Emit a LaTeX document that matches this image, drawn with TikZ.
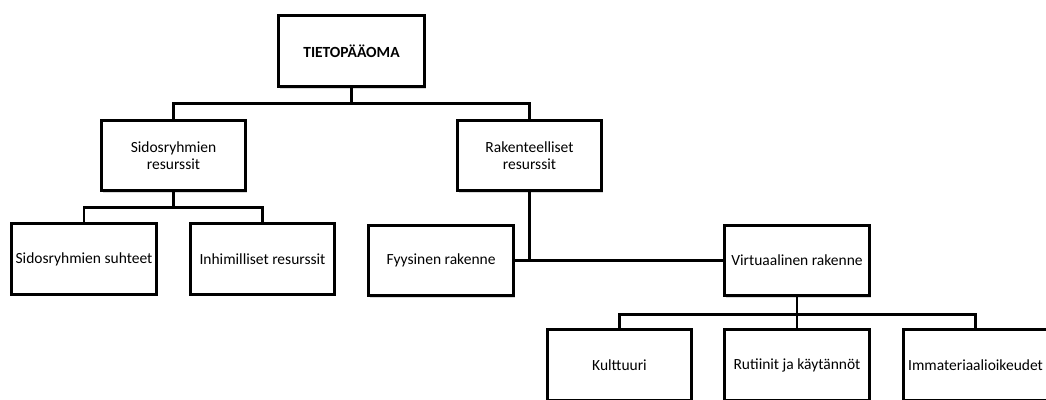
\documentclass[tikz,border=0pt]{standalone}
\usepackage{fontspec}
\setmainfont{Carlito}
\usepackage{tikz}
\usetikzlibrary{shadows}
\tikzset{
  tp diagram/.style={x=1pt, y=1pt, font=\fontsize{15.5}{17.3}\selectfont,
    line join=miter},
  tp box/.style={draw=black, fill=white, line width=2.9pt,
    minimum width=144.5pt, minimum height=70.5pt, inner sep=2pt, align=center,
    drop shadow={shadow xshift=1.5pt, shadow yshift=-2pt, opacity=0.25, fill=black!60}},
  tp root/.style={tp box, font=\fontsize{15.5}{17.3}\selectfont\bfseries,
    minimum width=146.5pt, minimum height=71.5pt},
  tp link/.style={draw=black, line width=2.9pt}
}
\begin{document}
\begin{tikzpicture}[tp diagram]
\useasboundingbox (0,0) rectangle (1046,399);
\node[tp root] (top) at (351.5,348) {TIETOPÄÄOMA};
\node[tp box] (sid) at (173.5,243.5) {Sidosryhmien\\resurssit};
\node[tp box] (rak) at (529.5,243.5) {Rakenteelliset\\resurssit};
\node[tp box] (suht) at (84,140) {Sidosryhmien suhteet};
\node[tp box] (inh) at (262.5,140) {Inhimilliset resurssit};
\node[tp box] (fyy) at (441,138.5) {Fyysinen rakenne};
\node[tp box] (vir) at (797,138.5) {Virtuaalinen rakenne};
\foreach \name/\x/\label in {kul/619.5/Kulttuuri,rut/797/{Rutiinit ja käytännöt},imm/975.5/Immateriaalioikeudet}{
  \node[tp box] (\name) at (\x,34) {\label};
  \draw[tp link] (vir.south) -- ++(0,-17) -| (\name.north);
}
\draw[tp link] (top.south) -- ++(0,-15) -| (sid.north);
\draw[tp link] (top.south) -- ++(0,-15) -| (rak.north);
\draw[tp link] (sid.south) -- ++(0,-15) -| (suht.north);
\draw[tp link] (sid.south) -- ++(0,-15) -| (inh.north);
\draw[tp link] (rak.south) |- (fyy.east);
\draw[tp link] (rak.south) |- (vir.west);
\end{tikzpicture}
\end{document}
